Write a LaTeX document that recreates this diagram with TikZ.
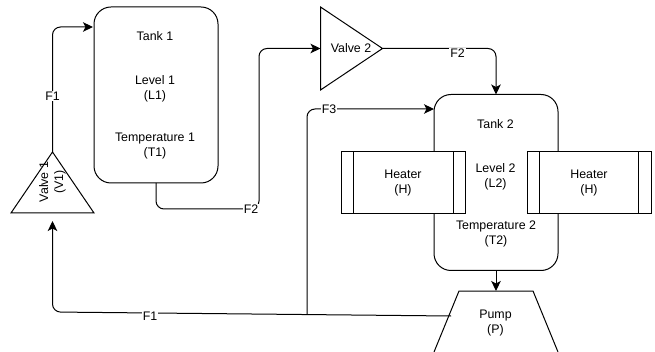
\documentclass[tikz,border=0pt]{standalone}
\usepackage{fontspec}
\setmainfont{Liberation Sans}
\usetikzlibrary{arrows.meta,shapes.geometric}
\tikzset{
  every node/.style={font=\fontsize{12.4}{15}\selectfont,align=center,inner sep=0pt,outer sep=0pt},
  tank/.style={draw,rounded corners=17pt,minimum width=124pt,minimum height=176pt,fill=white,line width=1pt},
  heater/.style={draw,minimum width=124pt,minimum height=62pt,fill=white,line width=1pt},
  heaterbar/.style={line width=1pt},
  valve/.style={draw,isosceles triangle,isosceles triangle stretches,line width=1pt,anchor=lower side},
  pumpline/.style={line width=1pt},
  flow/.style={line width=1pt,rounded corners=8pt},
  arrowflow/.style={flow,-{Stealth[length=10pt,width=9.5pt,inset=2.5pt]}},
  flowlabel/.style={fill=white,inner sep=1pt}
}
\begin{document}
\begin{tikzpicture}[x=1pt,y=-1pt]
\useasboundingbox (0,0) rectangle (655,352);
% tanks
\node[tank] (tank1) at (156,95) {};
\node[tank] (tank2) at (496,182.5) {};
% valves
\node[valve,minimum height=62pt,minimum width=83pt] (valve2) at (320.5,48.5) {};
\node (valve2text) at (351,48) {Valve 2};
\node[valve,shape border rotate=90,minimum height=61pt,minimum width=83pt] (valve1) at (52.5,213) {};
\node[rotate=90] (valve1text) at (52.5,182) {Valve 1\\(V1)};
% pump
\coordinate (pumpbl) at (434,352);
\coordinate (pumptl) at (459,291);
\coordinate (pumptr) at (533,291);
\coordinate (pumpbr) at (558,352);
\coordinate (pumptop) at (496,291);
\coordinate (pumpout) at (451,316);
\draw[pumpline] (pumpbl) -- (pumptl) -- (pumptr) -- (pumpbr);
\node (pumptext) at (495.5,323.5) {Pump\\(P)};
% heaters
\node[heater] (heaterL) at (403.5,182.5) {};
\node[heater] (heaterR) at (589,182.5) {};
\draw[heaterbar] ([xshift=12pt]heaterL.north west) -- ([xshift=12pt]heaterL.south west);
\draw[heaterbar] ([xshift=-12.5pt]heaterL.north east) -- ([xshift=-12.5pt]heaterL.south east);
\draw[heaterbar] ([xshift=12.5pt]heaterR.north west) -- ([xshift=12.5pt]heaterR.south west);
\draw[heaterbar] ([xshift=-12.5pt]heaterR.north east) -- ([xshift=-12.5pt]heaterR.south east);
\node (heaterLtext) at (403,183) {Heater\\(H)};
\node (heaterRtext) at (589,183) {Heater\\(H)};
% texts
\node (t1a) at (155,36.5) {Tank 1};
\node (t1b) at (155,88.5) {Level 1\\(L1)};
\node (t1c) at (155,146) {Temperature 1\\(T1)};
\node (t2a) at (495.5,124.5) {Tank 2};
\node (t2b) at (495.5,176.5) {Level 2\\(L2)};
\node (t2c) at (496,233.5) {Temperature 2\\(T2)};
% connectors
\coordinate (j1) at (307,314.2);
\draw[arrowflow] (valve1.apex) |- ([xshift=-1pt,yshift=68pt]tank1.west);
\node[flowlabel] (lf1a) at (52.5,96) {F1};
\draw[arrowflow] (tank1.south) |- (259,209) -- (259,48.5) -- (valve2.lower side);
\node[flowlabel] (lf2a) at (251,209) {F2};
\draw[arrowflow] (valve2.apex) -| (tank2.north);
\node[flowlabel] (lf2b) at (457.5,53) {F2};
\draw[arrowflow] (j1) |- ([yshift=73.5pt]tank2.west);
\node[flowlabel] (lf3) at (329,109) {F3};
\draw[-{Stealth[length=10pt,width=9.5pt,inset=2.5pt]},line width=1pt] (tank2.south) -- (pumptop);
\draw[arrowflow] (pumpout) -- (52.5,312) -- (52.5,221);
\node[flowlabel] (lf1b) at (150,316) {F1};
\end{tikzpicture}
\end{document}
